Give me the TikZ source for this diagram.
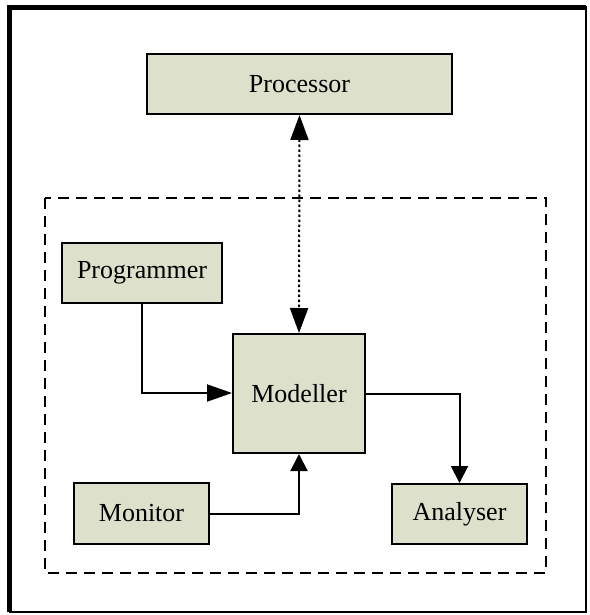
\documentclass[tikz,border=0pt]{standalone}
\usepackage{fontspec}
\setmainfont{Liberation Serif}
\usetikzlibrary{arrows.meta}
\definecolor{boxfill}{RGB}{221,224,203}
\tikzset{
  blk/.style={draw=black, line width=2pt, fill=boxfill, inner sep=0pt, font=\fontsize{26}{30}\selectfont},
  conn/.style={line width=2pt},
  bigtip/.style={-{Triangle[length=25pt,width=17pt]}},
  smalltip/.style={-{Triangle[length=17pt,width=17pt]}},
  dotline/.style={line width=2pt, dash pattern=on 2.5pt off 2.5pt}
}
\begin{document}
\begin{tikzpicture}[x=1pt,y=-1pt]
\useasboundingbox (0,0) rectangle (589,615);
% outer frame
\draw[line width=2pt] (9.5,7.5) rectangle (586,612);
\draw[line width=5pt] (9.5,612) -- (9.5,7.5) -- (586,7.5);
% dashed group
\draw[line width=2pt, dash pattern=on 11pt off 7pt] (45,198) rectangle (546,573);
% nodes
\node[blk, minimum width=305pt, minimum height=60pt] (proc) at (299.5,84) {Processor};
\node[blk, minimum width=160pt, minimum height=60pt] (prog) at (142,273) {Programmer};
\node[blk, minimum width=132pt, minimum height=119pt] (mod) at (299,393.5) {Modeller};
\node[blk, minimum width=135pt, minimum height=61pt] (mon) at (141.5,513.5) {Monitor};
\node[blk, minimum width=135pt, minimum height=60pt] (ana) at (459.5,514) {Analyser};
% connectors
\draw[dotline, {Triangle[length=25pt,width=18pt]}-{Triangle[length=25pt,width=18pt]}] (proc.south) -- (mod.north);
\draw[conn, bigtip] (prog.south) |- (mod.west |- 0,393);
\draw[conn, smalltip] (mon.east) -| (mod.south);
\draw[conn, smalltip] (mod.east |- 0,394) -| (ana.north);
\end{tikzpicture}
\end{document}
